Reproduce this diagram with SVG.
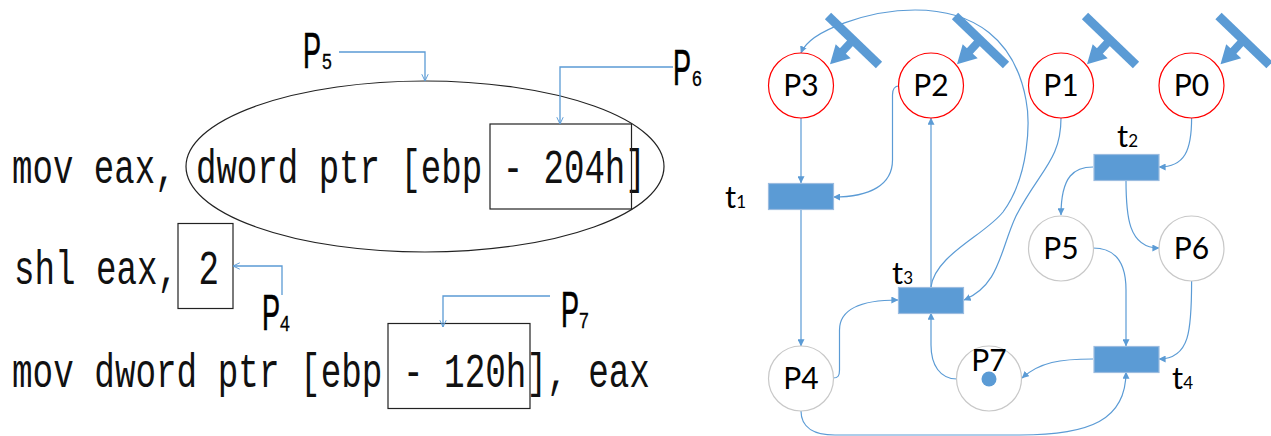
<svg xmlns="http://www.w3.org/2000/svg" width="1271" height="436" viewBox="0 0 1271 436">
<style>
.code{font-family:"Liberation Mono",monospace;font-size:48px;fill:#111}
.lab{font-family:"Liberation Sans",Arial,sans-serif;font-size:50px;fill:#000;stroke:#000;stroke-width:.7}
.sub{font-family:"Liberation Sans",Arial,sans-serif;font-size:22px;fill:#000;stroke:#000;stroke-width:.3}
.box{fill:none;stroke:#222;stroke-width:1.2}
.lead{fill:none;stroke:#5b9bd5;stroke-width:1.3;marker-end:url(#open)}
.con{fill:none;stroke:#5b9bd5;stroke-width:1.2;marker-end:url(#tri)}
.red{fill:#fff;stroke:#f00;stroke-width:1.2}
.grey{fill:#fff;stroke:#c8c8c8;stroke-width:1.2}
.tr{fill:#5b9bd5;stroke:#9bbce0;stroke-width:1.2}
.pl{font-family:Lato,"Open Sans",sans-serif;font-size:30px;fill:#000;text-anchor:middle}
.tl{font-family:Lato,"Open Sans",sans-serif;font-size:31px;fill:#000}
.ts{font-size:17px}
</style>
<defs>
<marker id="tri" viewBox="0 0 10 10" refX="9.500" refY="5" markerWidth="7" markerHeight="7" markerUnits="userSpaceOnUse" orient="auto"><path d="M0,0L10,5L0,10Z" fill="#5b9bd5"/></marker>
<marker id="open" viewBox="0 0 10 10" refX="9.500" refY="5" markerWidth="10" markerHeight="8" markerUnits="userSpaceOnUse" orient="auto"><path d="M1,1L9.500,5L1,9" fill="none" stroke="#5b9bd5" stroke-width="1.2"/></marker>
<g id="inhib"><path d="M0,0L51,49" stroke="#5b9bd5" stroke-width="9" fill="none"/><path d="M25,24L13,37" stroke="#5b9bd5" stroke-width="8" fill="none"/><path d="M2,48.300L7.700,28.300L22.700,42.300Z" fill="#5b9bd5"/></g>
</defs>
<g id="code">
<text class="code" transform="translate(12,183) scale(.71,1)">mov eax, dword ptr [ebp - 204h]</text>
<text class="code" transform="translate(14,284) scale(.712,1)">shl eax, 2</text>
<text class="code" transform="translate(12,387) scale(.7146,1)">mov dword ptr [ebp - 120h], eax</text>
</g>
<g id="op-p5"><ellipse class="box" cx="425" cy="166.500" rx="239" ry="85.500"/></g>
<g id="op-p6"><rect class="box" x="490" y="124" width="141.500" height="85"/></g>
<g id="op-p4"><rect class="box" x="178" y="223.500" width="55" height="85"/></g>
<g id="op-p7"><rect class="box" x="388" y="323.500" width="142" height="85"/></g>
<g id="labels">
<text class="lab" transform="translate(303,68) scale(.54,1)">P</text><text class="sub" transform="translate(322,69) scale(.8,1)">5</text>
<text class="lab" transform="translate(673,85) scale(.54,1)">P</text><text class="sub" transform="translate(692,86) scale(.8,1)">6</text>
<text class="lab" transform="translate(262,330) scale(.54,1)">P</text><text class="sub" transform="translate(280,331) scale(.8,1)">4</text>
<text class="lab" transform="translate(561,327) scale(.54,1)">P</text><text class="sub" transform="translate(579,328) scale(.8,1)">7</text>
</g>
<g id="connectors">
<path class="lead" d="M339,52H425V81"/>
<path class="lead" d="M673,67H560V124"/>
<path class="lead" d="M282,295V266H233"/>
<path class="lead" d="M550,296H443V327"/>
<path class="con" d="M801,118V183"/>
<path class="con" d="M801,209V346"/>
<path class="con" d="M833,378C838,378 839.500,376 839.500,370V330C839.500,310 860,300 898,300"/>
<path class="con" d="M957,379C940,379 931,365 931,345V313"/>
<path class="con" d="M1093,359C1060,359 1040,362 1022,378"/>
<path class="con" d="M1093,248C1115,248 1126,262 1126,290V346"/>
<path class="con" d="M1191.600,281C1191.600,330 1190,359 1159,359"/>
<path class="con" d="M801,411C801,428 815,435 835,435H1020C1090,435 1126,420 1126,372"/>
<path class="con" d="M1191.600,118C1191.600,150 1185,167 1159,167"/>
<path class="con" d="M1093,167C1075,167 1061,175 1061,215"/>
<path class="con" d="M1126,180C1126,215 1128,248 1159,248"/>
<path class="con" d="M899,86C894,86 892.500,89 892.500,95V160C892.500,185 870,197 833.500,197"/>
<path class="con" d="M931,287V118"/>
<path class="con" d="M1061,118C1061,160 1040,170 1016,216C1000,250 1000,285 964,300"/>
<path class="con" d="M931,287C935,255 985,235 1003,212C1030,175 1030,120 1026,100C1015,40 975,10 915,10C870,10 810,30 801,53"/>
</g>
<g id="inhibitor-p3"><use href="#inhib" x="828" y="16"/></g>
<g id="inhibitor-p2"><use href="#inhib" x="955" y="16"/></g>
<g id="inhibitor-p1"><use href="#inhib" x="1085" y="16"/></g>
<g id="inhibitor-p0"><use href="#inhib" x="1218.500" y="16"/></g>
<g id="P3"><circle class="red" cx="801" cy="85.500" r="32.500"/><text class="pl" x="801" y="96">P3</text></g>
<g id="P2"><circle class="red" cx="931" cy="85.500" r="32.500"/><text class="pl" x="931" y="96">P2</text></g>
<g id="P1"><circle class="red" cx="1061" cy="85.500" r="32.500"/><text class="pl" x="1061" y="96">P1</text></g>
<g id="P0"><circle class="red" cx="1191.500" cy="85.500" r="32.500"/><text class="pl" x="1191.500" y="96">P0</text></g>
<g id="P5"><circle class="grey" cx="1061" cy="248.500" r="32.500"/><text class="pl" x="1061" y="259">P5</text></g>
<g id="P6"><circle class="grey" cx="1191.500" cy="248.500" r="32.500"/><text class="pl" x="1191.500" y="259">P6</text></g>
<g id="P4"><circle class="grey" cx="801" cy="378.500" r="32.500"/><text class="pl" x="801" y="389">P4</text></g>
<g id="P7"><circle class="grey" cx="989" cy="378.500" r="32.500"/><text class="pl" x="989" y="371">P7</text><circle cx="989" cy="379" r="7.500" fill="#5b9bd5"/></g>
<g id="t1"><rect class="tr" x="768.500" y="183.500" width="65" height="26"/><text class="tl" x="725" y="208">t<tspan class="ts">1</tspan></text></g>
<g id="t2"><rect class="tr" x="1094" y="154.500" width="65" height="26"/><text class="tl" x="1117" y="147">t<tspan class="ts">2</tspan></text></g>
<g id="t3"><rect class="tr" x="898.500" y="287.500" width="65" height="26"/><text class="tl" x="892" y="284">t<tspan class="ts">3</tspan></text></g>
<g id="t4"><rect class="tr" x="1094" y="346.500" width="65" height="26"/><text class="tl" x="1172" y="389">t<tspan class="ts">4</tspan></text></g>
</svg>
